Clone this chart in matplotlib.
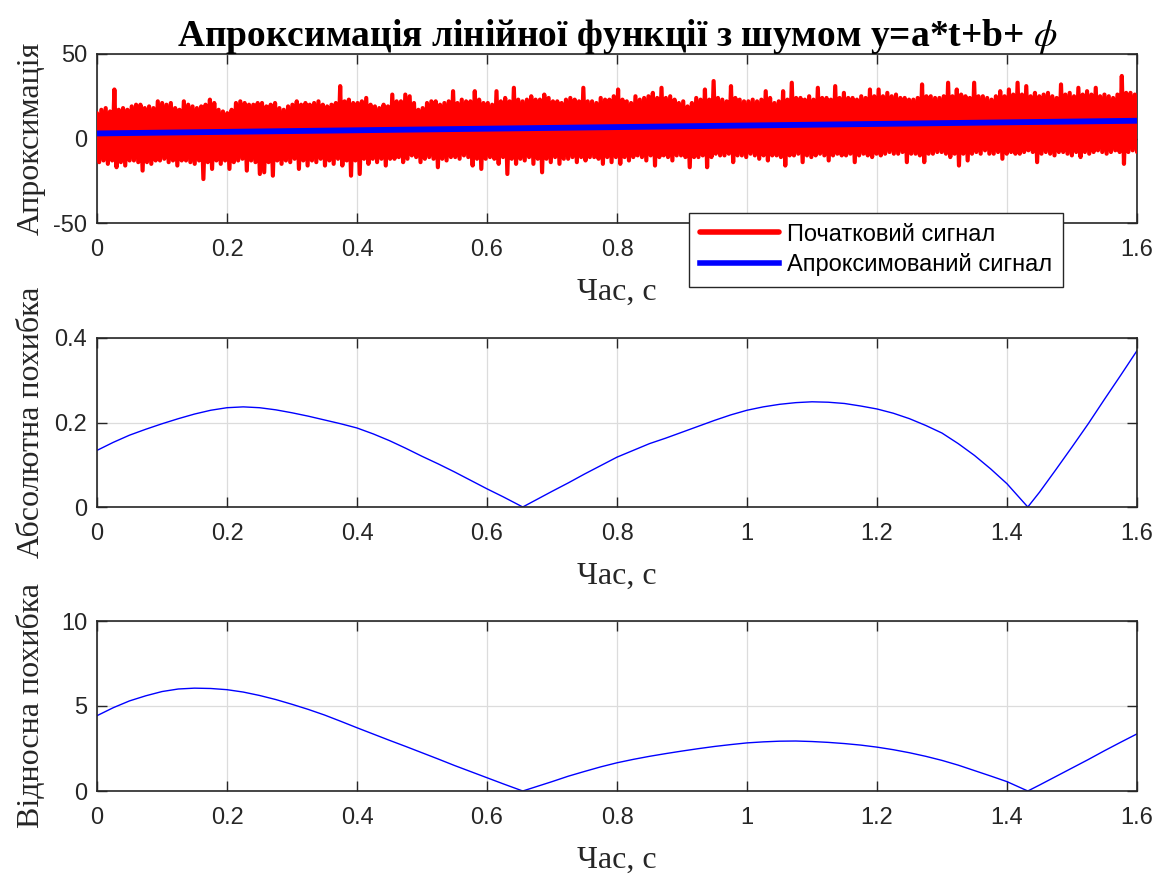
import numpy as np
import matplotlib
matplotlib.use("Agg")
import matplotlib.pyplot as plt

# --- noisy signal: alternating crest / trough samples of the measured signal ---
signal_upper = [
    15, 17, 18, 16, 29, 17, 18, 17, 19, 20, 20, 18, 19, 18, 22, 21, 20, 21, 18, 17,
    22, 20, 19, 18, 19, 20, 23, 21, 17, 16, 15, 17, 21, 22, 21, 20, 20, 21, 21, 19,
    20, 21, 18, 17, 19, 20, 22, 20, 21, 20, 21, 22, 20, 19, 20, 21, 31, 22, 23, 21,
    21, 22, 24, 20, 19, 18, 20, 19, 26, 22, 22, 26, 25, 21, 17, 18, 21, 22, 22, 20,
    21, 22, 28, 21, 23, 22, 22, 28, 23, 21, 21, 20, 28, 22, 24, 22, 30, 23, 22, 23,
    25, 23, 23, 26, 24, 22, 22, 21, 23, 24, 23, 22, 30, 22, 22, 21, 24, 23, 23, 25,
    29, 23, 22, 21, 25, 23, 24, 25, 27, 24, 30, 24, 25, 23, 21, 22, 19, 21, 24, 23,
    29, 23, 34, 24, 23, 22, 31, 24, 23, 22, 22, 23, 22, 23, 28, 24, 21, 22, 28, 23,
    33, 24, 24, 23, 25, 23, 30, 24, 24, 23, 31, 24, 27, 24, 24, 23, 25, 24, 29, 25,
    29, 25, 27, 25, 26, 24, 24, 23, 23, 24, 32, 25, 25, 24, 24, 25, 33, 25, 29, 26,
    25, 24, 33, 25, 25, 24, 23, 25, 28, 25, 29, 26, 33, 26, 31, 25, 27, 25, 26, 27,
    25, 24, 32, 26, 27, 25, 30, 26, 28, 26, 30, 25, 26, 25, 24, 26, 37, 27, 27, 26,
]
signal_lower = [
    -14, -13, -15, -13, -17, -14, -16, -13, -13, -14, -19, -14, -15, -13, -13, -12, -14, -13, -16, -13,
    -13, -14, -15, -13, -24, -14, -18, -13, -15, -13, -18, -14, -13, -12, -19, -13, -14, -21, -20, -14,
    -22, -13, -15, -13, -14, -12, -18, -13, -16, -13, -14, -12, -16, -13, -15, -12, -16, -13, -22, -13,
    -21, -12, -15, -12, -14, -12, -16, -12, -12, -11, -14, -12, -10, -11, -14, -12, -11, -12, -17, -12,
    -13, -11, -11, -12, -10, -11, -16, -12, -18, -12, -11, -12, -15, -11, -21, -12, -15, -12, -13, -11,
    -15, -12, -20, -12, -14, -11, -15, -12, -12, -11, -14, -11, -13, -11, -11, -12, -15, -11, -14, -11,
    -15, -11, -13, -11, -10, -11, -13, -10, -16, -11, -10, -11, -13, -10, -10, -11, -17, -11, -11, -10,
    -17, -11, -9, -10, -10, -9, -14, -10, -10, -11, -9, -10, -12, -10, -13, -10, -10, -11, -16, -10,
    -10, -9, -14, -10, -11, -10, -9, -10, -13, -10, -9, -10, -10, -9, -14, -10, -9, -10, -11, -9,
    -10, -9, -8, -9, -9, -8, -14, -9, -9, -10, -14, -9, -9, -8, -8, -9, -11, -9, -16, -9,
    -13, -9, -8, -9, -7, -9, -9, -8, -12, -9, -8, -9, -9, -8, -7, -8, -14, -9, -8, -9,
    -10, -8, -8, -9, -10, -8, -11, -8, -9, -8, -7, -8, -9, -8, -7, -8, -15, -8, -7, -8,
]

# --- fitted straight line (end points) ---
fit_t = [0.0, 1.6]
fit_y = [3.0, 10.5]

# --- approximation errors ---
err_t = [0.0, 0.025, 0.05, 0.075, 0.1, 0.125, 0.15, 0.175, 0.2, 0.225, 0.25, 0.275, 0.3,
         0.325, 0.35, 0.375, 0.4, 0.425, 0.45, 0.475, 0.5, 0.525, 0.55, 0.575, 0.6, 0.625,
         0.655, 0.7, 0.725, 0.75, 0.775, 0.8, 0.825, 0.85, 0.875, 0.9, 0.925, 0.95, 0.975,
         1.0, 1.025, 1.05, 1.075, 1.1, 1.125, 1.15, 1.175, 1.2, 1.225, 1.25, 1.275, 1.3,
         1.325, 1.35, 1.375, 1.4, 1.425, 1.432, 1.45, 1.475, 1.5, 1.525, 1.55, 1.575, 1.6]
abs_err = [0.134, 0.153, 0.170, 0.184, 0.197, 0.209, 0.220, 0.229, 0.235, 0.237, 0.235,
           0.230, 0.223, 0.215, 0.206, 0.197, 0.187, 0.173, 0.157, 0.139, 0.120, 0.102,
           0.083, 0.063, 0.043, 0.024, 0.0, 0.037, 0.057, 0.078, 0.098, 0.118, 0.134,
           0.150, 0.163, 0.177, 0.191, 0.205, 0.218, 0.229, 0.237, 0.243, 0.247, 0.249,
           0.248, 0.245, 0.239, 0.232, 0.222, 0.209, 0.193, 0.175, 0.150, 0.122, 0.090,
           0.055, 0.012, 0.0, 0.035, 0.088, 0.142, 0.197, 0.255, 0.312, 0.370]
rel_err = [4.43, 4.90, 5.30, 5.60, 5.85, 6.00, 6.05, 6.03, 5.96, 5.82, 5.62, 5.38, 5.10,
           4.80, 4.47, 4.10, 3.72, 3.35, 2.98, 2.62, 2.25, 1.88, 1.50, 1.14, 0.78, 0.42,
           0.0, 0.55, 0.87, 1.15, 1.42, 1.66, 1.86, 2.04, 2.20, 2.35, 2.49, 2.62, 2.73,
           2.83, 2.89, 2.93, 2.94, 2.91, 2.86, 2.79, 2.70, 2.58, 2.43, 2.25, 2.04, 1.80,
           1.52, 1.20, 0.88, 0.55, 0.12, 0.0, 0.35, 0.85, 1.35, 1.85, 2.37, 2.87, 3.36]

x_ticks = [0, 0.2, 0.4, 0.6, 0.8, 1.0, 1.2, 1.4, 1.6]
x_ticklabels = ["0", "0.2", "0.4", "0.6", "0.8", "1", "1.2", "1.4", "1.6"]

title_text = "Апроксимація лінійної функції з шумом y=a*t+b+ $\\phi$"
x_label = "Час, с"
y_labels = ["Апроксимація", "Абсолютна похибка", "Відносна похибка"]
legend_labels = ["Початковий сигнал", "Апроксимований сигнал"]

plt.rcParams["mathtext.fontset"] = "stix"
SERIF = "Liberation Serif"
SANS = "Liberation Sans"
AX_COLOR = "#262626"

fig = plt.figure(figsize=(11.62, 8.75), dpi=100)
left, width = 97 / 1162, 1040 / 1162
ax1 = fig.add_axes([left, 1 - 223 / 875, width, 169 / 875])
ax2 = fig.add_axes([left, 1 - 507 / 875, width, 169 / 875])
ax3 = fig.add_axes([left, 1 - 791 / 875, width, 170 / 875])


def style_axes(ax, yticks, ylabels, ylim, ylab):
    ax.set_xlim(0, 1.6)
    ax.set_ylim(*ylim)
    ax.set_xticks(x_ticks)
    ax.set_xticklabels(x_ticklabels)
    ax.set_yticks(yticks)
    ax.set_yticklabels(ylabels)
    ax.grid(True, color="#dcdcdc", linewidth=0.9)
    ax.set_axisbelow(True)
    ax.tick_params(direction="in", length=7, width=1.0, colors=AX_COLOR,
                   top=True, right=True, labelsize=17)
    ax.tick_params(axis="x", pad=11.5)
    ax.tick_params(axis="y", pad=7)
    for lab in ax.get_xticklabels() + ax.get_yticklabels():
        lab.set_fontfamily(SANS)
    for sp in ax.spines.values():
        sp.set_color(AX_COLOR)
        sp.set_linewidth(1.2)
    ax.set_xlabel(x_label, fontfamily=SERIF, fontsize=23, color=AX_COLOR)
    ax.set_ylabel(ylab, fontfamily=SERIF, fontsize=23, color=AX_COLOR)
    ax.xaxis.set_label_coords(0.5, -0.325)
    ax.yaxis.set_label_coords(-0.049, 0.5)


# top panel: noisy signal and the fitted line
n = len(signal_upper)
zig = np.empty(2 * n)
zig[0::2] = signal_upper
zig[1::2] = signal_lower
t_sig = np.linspace(0, 1.6, 2 * n)
ax1.plot(t_sig, zig, color=(1, 0, 0), linewidth=3, solid_joinstyle="round",
         solid_capstyle="round", label=legend_labels[0], zorder=3)
ax1.plot(fit_t, fit_y, color=(0, 0, 1), linewidth=4.2, label=legend_labels[1], zorder=4)
style_axes(ax1, [-50, 0, 50], ["-50", "0", "50"], (-50, 50), y_labels[0])
ax1.set_title(title_text, fontfamily=SERIF, fontweight="bold", fontsize=27, pad=6)

leg = ax1.legend(loc="upper left", bbox_to_anchor=(689 / 1162, 1 - 213 / 875),
                 bbox_transform=fig.transFigure, prop={"family": SANS, "size": 17},
                 frameon=True, fancybox=False, edgecolor=AX_COLOR, framealpha=1,
                 handlelength=3.35, handletextpad=0.34, borderpad=0.45, labelspacing=0.31,
                 borderaxespad=0)
leg.get_frame().set_linewidth(1.0)
for line in leg.get_lines():
    line.set_linewidth(4)
leg.set_zorder(10)

# middle panel: absolute error
ax2.plot(err_t, abs_err, color=(0, 0, 1), linewidth=1.0)
style_axes(ax2, [0, 0.2, 0.4], ["0", "0.2", "0.4"], (0, 0.4), y_labels[1])

# bottom panel: relative error
ax3.plot(err_t, rel_err, color=(0, 0, 1), linewidth=1.0)
style_axes(ax3, [0, 5, 10], ["0", "5", "10"], (0, 10), y_labels[2])

fig.savefig("out.png", dpi=100)
